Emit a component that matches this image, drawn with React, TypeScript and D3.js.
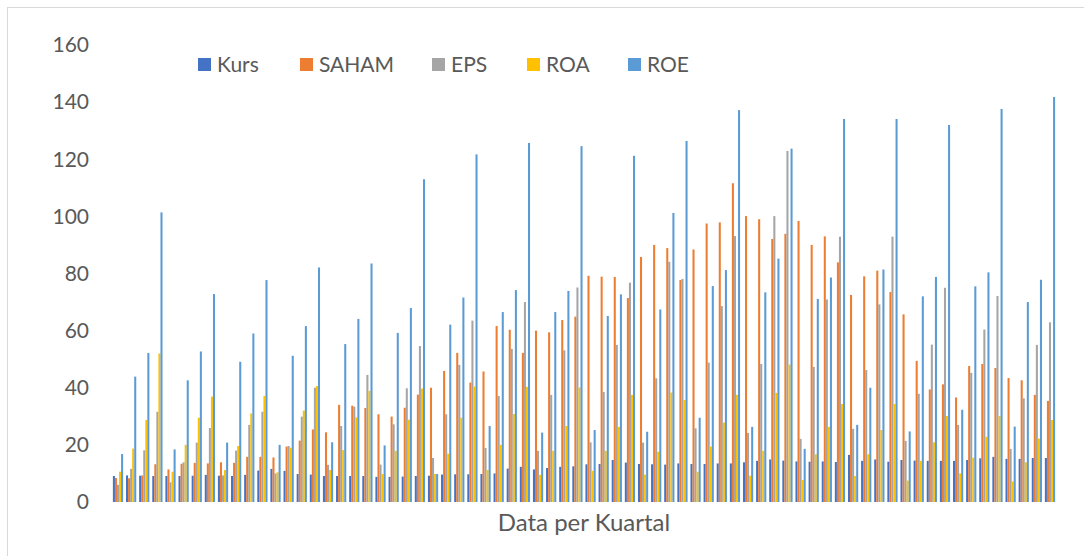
import React from 'react';
import * as d3 from 'd3';

const seriesNames = ['Kurs', 'SAHAM', 'EPS', 'ROA', 'ROE'];
const colors = ['#4472C4', '#ED7D31', '#A5A5A5', '#FFC000', '#5B9BD5'];

const kurs = [
  9.1, 9.3, 9.2, 9.1, 9.1, 9.1, 9.2, 9.5, 9.2, 9.1, 9.5, 11.0,
  11.6, 10.9, 9.8, 9.6, 9.1, 9.1, 9.1, 9.1, 8.8, 8.8, 8.9, 9.1,
  9.2, 9.6, 9.7, 9.7, 9.8, 10.0, 11.7, 12.3, 11.4, 11.9, 12.3, 12.5,
  13.2, 13.3, 14.7, 13.8, 13.3, 13.2, 13.1, 13.5, 13.3, 13.3, 13.5, 13.5,
  13.9, 14.4, 14.9, 14.5, 14.2, 14.1, 14.2, 14.0, 16.5, 14.4, 14.9, 14.1,
  14.7, 14.5, 14.4, 14.4, 14.4, 14.7, 15.3, 15.8, 15.1, 15.1, 15.4, 15.4,
];
const saham = [
  8.4, 8.3, 9.3, 13.2, 11.4, 13.4, 13.7, 13.5, 13.9, 13.7, 15.8, 15.8,
  15.6, 19.4, 21.5, 25.4, 24.4, 34.0, 33.7, 32.9, 30.7, 29.9, 33.0, 37.6,
  40.0, 45.9, 52.2, 41.8, 45.7, 61.6, 60.3, 52.2, 60.0, 59.4, 63.7, 64.9,
  79.2, 78.9, 78.8, 71.4, 85.8, 90.0, 88.9, 77.7, 88.4, 97.5, 97.9, 111.6,
  100.1, 99.0, 92.1, 93.9, 98.4, 90.0, 93.0, 83.9, 72.5, 79.0, 81.0, 73.5,
  65.7, 49.4, 39.4, 41.2, 36.6, 47.6, 48.3, 46.9, 43.4, 42.6, 37.5, 35.4,
];
const eps = [
  6.0, 11.6, 18.1, 31.6, 6.9, 13.9, 20.8, 25.9, 9.3, 18.0, 27.0, 31.6,
  10.0, 19.6, 29.9, 40.0, 13.0, 26.6, 33.4, 44.5, 13.1, 27.2, 39.8, 54.6,
  15.4, 30.7, 48.0, 63.5, 18.9, 37.1, 53.6, 70.0, 17.9, 37.5, 53.1, 75.1,
  20.9, 38.5, 55.0, 76.8, 20.8, 43.3, 84.1, 78.1, 25.8, 48.8, 68.6, 93.1,
  24.2, 48.3, 100.1, 122.9, 22.1, 47.3, 70.9, 92.9, 25.6, 46.2, 69.2, 92.9,
  21.4, 37.9, 55.1, 75.0, 27.0, 45.2, 60.4, 72.1, 18.6, 36.3, 55.0, 62.9,
];
const roa = [
  10.6, 18.7, 28.7, 52.0, 10.6, 20.0, 29.5, 36.9, 11.2, 19.6, 31.0, 37.1,
  10.4, 19.0, 32.0, 40.6, 11.2, 18.2, 29.6, 38.9, 9.8, 17.9, 28.8, 39.7,
  9.8, 16.9, 29.5, 40.4, 11.2, 20.0, 30.8, 40.3, 9.5, 17.9, 26.6, 40.1,
  10.9, 17.9, 26.3, 37.5, 9.6, 17.6, 38.3, 35.7, 10.6, 19.4, 27.8, 37.5,
  9.2, 17.9, 38.2, 48.1, 7.7, 16.7, 26.3, 34.3, 9.1, 16.7, 25.2, 34.3,
  7.5, 14.4, 20.9, 30.1, 10.0, 15.5, 22.8, 30.1, 7.2, 13.9, 22.2, 28.7,
];
const roe = [
  16.8, 43.9, 52.2, 101.4, 18.4, 42.6, 52.7, 72.8, 20.8, 49.1, 59.0, 77.7,
  20.0, 51.2, 61.6, 82.1, 20.9, 55.3, 64.1, 83.5, 19.8, 59.2, 67.9, 113.0,
  9.8, 62.1, 71.6, 121.7, 26.6, 66.5, 74.2, 125.7, 24.3, 66.5, 73.9, 124.6,
  25.2, 65.1, 72.7, 121.2, 24.6, 67.4, 101.2, 126.4, 29.5, 75.6, 81.2, 137.2,
  26.3, 73.4, 85.2, 123.7, 18.6, 71.1, 78.6, 134.1, 27.0, 40.0, 81.4, 134.1,
  24.7, 72.0, 78.8, 132.0, 32.3, 75.5, 80.4, 137.6, 26.4, 70.0, 77.8, 141.8,
];

const yTicks = [0, 20, 40, 60, 80, 100, 120, 140, 160];
const axisTitle = 'Data per Kuartal';

const allSeries = [kurs, saham, eps, roa, roe];
const quarters = kurs.map((_, i) => i);

const W = 1084;
const H = 556;
const FONT = 'Lato, "Open Sans", sans-serif';

export default function App() {
  const x = d3.scaleBand<number>().domain(quarters).range([110, 1058]).padding(0.22);
  const xInner = d3.scaleBand<number>().domain(d3.range(5)).range([0, x.bandwidth()]);
  const y = d3.scaleLinear().domain([0, 160]).range([502, 45]);

  const legendX = [198, 300, 432, 527, 628];

  return (
    <svg width={W} height={H} style={{ position: 'absolute', left: 0, top: 0 }}>
      <rect x={0} y={0} width={W} height={H} fill="#fff" />
      <rect x={7.5} y={7.5} width={W + 20} height={H + 20} fill="none" stroke="#d9d9d9" />

      {yTicks.map(t => (
        <text key={t} x={89} y={y(t)} dy="0.35em" textAnchor="end"
          fontFamily={FONT} fontSize={21} fill="#595959">{t}</text>
      ))}

      {allSeries.map((vals, s) => (
        <g key={s} fill={colors[s]}>
          {vals.map((v, i) => (
            <rect key={i}
              x={(x(i) ?? 0) + (xInner(s) ?? 0)}
              y={y(v)}
              width={xInner.bandwidth()}
              height={y(0) - y(v)} />
          ))}
        </g>
      ))}

      {seriesNames.map((name, s) => (
        <g key={name}>
          <rect x={legendX[s]} y={58} width={13} height={13} fill={colors[s]} />
          <text x={legendX[s] + 19} y={65} dy="0.35em" fontFamily={FONT}
            fontSize={21} fill="#595959">{name}</text>
        </g>
      ))}

      <text x={584} y={523} dy="0.35em" textAnchor="middle" fontFamily={FONT}
        fontSize={24} fill="#595959">{axisTitle}</text>
    </svg>
  );
}
